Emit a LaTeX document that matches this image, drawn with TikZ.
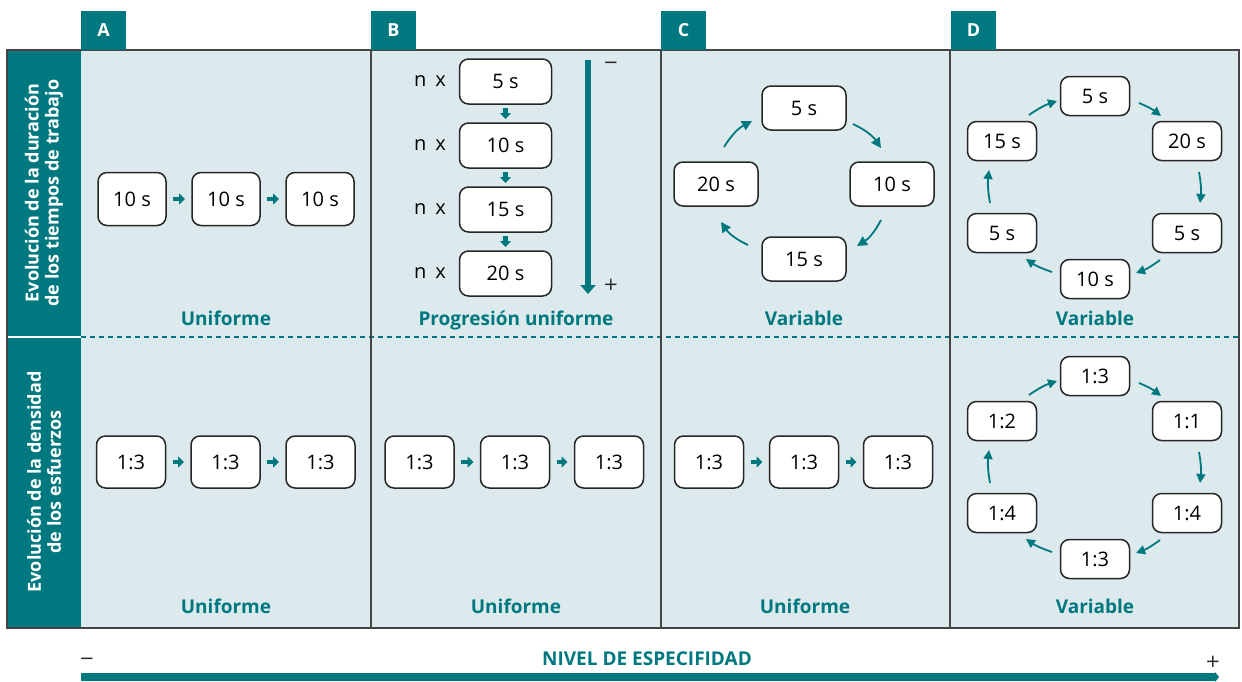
\documentclass[tikz,border=0pt]{standalone}
\usepackage{fontspec}
\setmainfont{Open Sans}
\newfontfamily\symf{DejaVu Sans}
\usetikzlibrary{arrows.meta}
\definecolor{tealA}{HTML}{00787F}
\definecolor{bgblue}{HTML}{DCEAED}
\definecolor{framec}{HTML}{454545}
\newcommand\myfs[1]{\fontsize{#1}{#1}\selectfont}
\begin{document}
\begin{tikzpicture}[x=1pt,y=-1pt,
  every node/.style={inner sep=0pt, outer sep=0pt},
  box/.style={draw=black!85, line width=1.5pt, fill=white, rounded corners=9pt, font=\myfs{20}},
  boxA/.style={box, minimum width=68pt, minimum height=53pt},
  boxR/.style={box, minimum width=69pt, minimum height=52pt},
  boxB/.style={box, minimum width=92pt, minimum height=45pt},
  boxC/.style={box, minimum width=84pt, minimum height=44pt},
  boxD/.style={box, minimum width=69pt, minimum height=39pt},
  blk/.style={tealA, line width=4.5pt, -{Triangle[length=6pt,width=11pt]}, shorten <=7pt, shorten >=7pt},
  blkd/.style={tealA, line width=4.5pt, -{Triangle[length=6pt,width=11pt]}, shorten <=4pt, shorten >=4pt},
  carrow/.style={tealA, line width=1.8pt, -{Triangle[length=10pt,width=10pt]}},
  darrow/.style={tealA, line width=1.8pt, -{Triangle[length=9pt,width=9pt]}},
  lbl/.style={text=tealA, font=\bfseries\myfs{19}, anchor=base},
  tab/.style={fill=tealA, minimum width=45pt, minimum height=39pt, text=white, font=\bfseries\myfs{18}},
  side/.style={rotate=90, align=center, text=white, font=\bfseries\fontsize{18}{20}\selectfont},
  nx/.style={font=\myfs{20}},
  pm/.style={font=\symf\fontsize{18}{18}\selectfont, text=black!85}
]
\useasboundingbox (0,0) rectangle (1242,681);
% panels
\fill[bgblue] (81,50) rectangle (1239,628);
\fill[tealA] (7,50) rectangle (81,628);
\draw[white, line width=2pt] (7,337) -- (81,337);
\draw[tealA, line width=1.5pt, dash pattern=on 5pt off 4pt] (81,337) -- (1239,337);
\foreach \xx in {371,661,950} \draw[framec, line width=1.2pt] (\xx,50) -- (\xx,628);
\draw[framec, line width=2pt] (7,50) rectangle (1239,628);
% tabs
\node[tab] (tA) at (103.5,30.5) {A};
\node[tab] (tB) at (393.5,30.5) {B};
\node[tab] (tC) at (683.5,30.5) {C};
\node[tab] (tD) at (973.5,30.5) {D};
% side labels
\node[side] (s1) at (44,193) {Evolución de la duración\\de los tiempos de trabajo};
\node[side] (s2) at (44,482) {Evolución de la densidad\\de los esfuerzos};
% ---- A top
\node[boxA] (a1) at (132,199) {10 s};
\node[boxA] (a2) at (226,199) {10 s};
\node[boxA] (a3) at (320,199) {10 s};
\draw[blk] (a1) -- (a2);
\draw[blk] (a2) -- (a3);
\node[lbl] (la1) at (226,325.5) {Uniforme};
% ---- B top
\node[boxB] (b1) at (505.5,81.5) {5 s};
\node[boxB] (b2) at (505.5,145.5) {10 s};
\node[boxB] (b3) at (505.5,209.5) {15 s};
\node[boxB] (b4) at (505.5,273.5) {20 s};
\node[nx] (n1) at (430,81.5) {n\hspace{4pt} x};
\node[nx] (n2) at (430,145.5) {n\hspace{4pt} x};
\node[nx] (n3) at (430,209.5) {n\hspace{4pt} x};
\node[nx] (n4) at (430,273.5) {n\hspace{4pt} x};
\draw[blkd] (b1) -- (b2);
\draw[blkd] (b2) -- (b3);
\draw[blkd] (b3) -- (b4);
\coordinate (vtop) at (588,60);
\coordinate (vbot) at (588,294);
\draw[tealA, line width=6.5pt, -{Triangle[length=9pt,width=15pt]}] (vtop) -- (vbot);
\node[pm] (bminus) at (611,65) {−};
\node[pm] (bplus) at (611,285) {+};
\node[lbl] (lb1) at (516,325.5) {Progresión uniforme};
% ---- C top
\node[boxC] (c5) at (804,108) {5 s};
\node[boxC] (c10) at (892,184) {10 s};
\node[boxC] (c15) at (804,259) {15 s};
\node[boxC] (c20) at (716,184) {20 s};
\coordinate (cA1) at (724,147); \coordinate (cA2) at (752,121);
\coordinate (cB1) at (853,124); \coordinate (cB2) at (881,148);
\coordinate (cC1) at (881,220); \coordinate (cC2) at (857,246);
\coordinate (cD1) at (748,245); \coordinate (cD2) at (721,222);
\draw[carrow] (cA1) to[bend left=15] (cA2);
\draw[carrow] (cB1) to[bend left=15] (cB2);
\draw[carrow] (cC1) to[bend left=15] (cC2);
\draw[carrow] (cD1) to[bend left=15] (cD2);
\node[lbl] (lc1) at (804,325.5) {Variable};
% ---- D top
\node[boxD] (d5t) at (1095,96) {5 s};
\node[boxD] (d20) at (1187,141) {20 s};
\node[boxD] (d5r) at (1187,233) {5 s};
\node[boxD] (d10) at (1095,279) {10 s};
\node[boxD] (d5l) at (1002,233) {5 s};
\node[boxD] (d15) at (1002,141) {15 s};
\coordinate (dA1) at (1029,115); \coordinate (dA2) at (1057,101);
\coordinate (dB1) at (1139,103); \coordinate (dB2) at (1161,116);
\coordinate (dC1) at (1199,172); \coordinate (dC2) at (1200,203);
\coordinate (dD1) at (1160,260); \coordinate (dD2) at (1136,273);
\coordinate (dE1) at (1052,272); \coordinate (dE2) at (1026,259);
\coordinate (dF1) at (990,203);  \coordinate (dF2) at (989,170);
\draw[darrow] (dA1) to[bend left=8] (dA2);
\draw[darrow] (dB1) to[bend left=8] (dB2);
\draw[darrow] (dC1) to[bend left=8] (dC2);
\draw[darrow] (dD1) to[bend left=8] (dD2);
\draw[darrow] (dE1) to[bend left=8] (dE2);
\draw[darrow] (dF1) to[bend left=8] (dF2);
\node[lbl] (ld1) at (1095,325.5) {Variable};
% ---- bottom row A, B, C
\node[boxR] (ra1) at (131,462) {1:3};
\node[boxR] (ra2) at (225.5,462) {1:3};
\node[boxR] (ra3) at (320.5,462) {1:3};
\draw[blk] (ra1) -- (ra2);
\draw[blk] (ra2) -- (ra3);
\node[lbl] (la2) at (226,613) {Uniforme};
\node[boxR] (rb1) at (419.5,462) {1:3};
\node[boxR] (rb2) at (515,462) {1:3};
\node[boxR] (rb3) at (609,462) {1:3};
\draw[blk] (rb1) -- (rb2);
\draw[blk] (rb2) -- (rb3);
\node[lbl] (lb2) at (516,613) {Uniforme};
\node[boxR] (rc1) at (709,462) {1:3};
\node[boxR] (rc2) at (804,462) {1:3};
\node[boxR] (rc3) at (898,462) {1:3};
\draw[blk] (rc1) -- (rc2);
\draw[blk] (rc2) -- (rc3);
\node[lbl] (lc2) at (805,613) {Uniforme};
% ---- D bottom
\node[boxD] (e13t) at (1095,376) {1:3};
\node[boxD] (e11) at (1187,421) {1:1};
\node[boxD] (e14r) at (1187,513) {1:4};
\node[boxD] (e13b) at (1095,559) {1:3};
\node[boxD] (e14l) at (1002,513) {1:4};
\node[boxD] (e12) at (1002,421) {1:2};
\coordinate (eA1) at (1029,395); \coordinate (eA2) at (1057,381);
\coordinate (eB1) at (1139,383); \coordinate (eB2) at (1161,396);
\coordinate (eC1) at (1199,452); \coordinate (eC2) at (1200,483);
\coordinate (eD1) at (1160,540); \coordinate (eD2) at (1136,553);
\coordinate (eE1) at (1052,552); \coordinate (eE2) at (1026,539);
\coordinate (eF1) at (990,483);  \coordinate (eF2) at (989,450);
\draw[darrow] (eA1) to[bend left=8] (eA2);
\draw[darrow] (eB1) to[bend left=8] (eB2);
\draw[darrow] (eC1) to[bend left=8] (eC2);
\draw[darrow] (eD1) to[bend left=8] (eD2);
\draw[darrow] (eE1) to[bend left=8] (eE2);
\draw[darrow] (eF1) to[bend left=8] (eF2);
\node[lbl] (ld2) at (1095,613) {Variable};
% ---- axis
\node[pm] (axminus) at (87,661) {−};
\node[text=tealA, font=\bfseries\myfs{19}] (axtitle) at (647,659) {NIVEL DE ESPECIFIDAD};
\node[pm] (axplus) at (1213,662) {+};
\coordinate (axL) at (81,677);
\coordinate (axR) at (1219,677);
\draw[tealA, line width=8pt, -{Triangle[length=4pt,width=10pt]}] (axL) -- (axR);
\end{tikzpicture}
\end{document}
